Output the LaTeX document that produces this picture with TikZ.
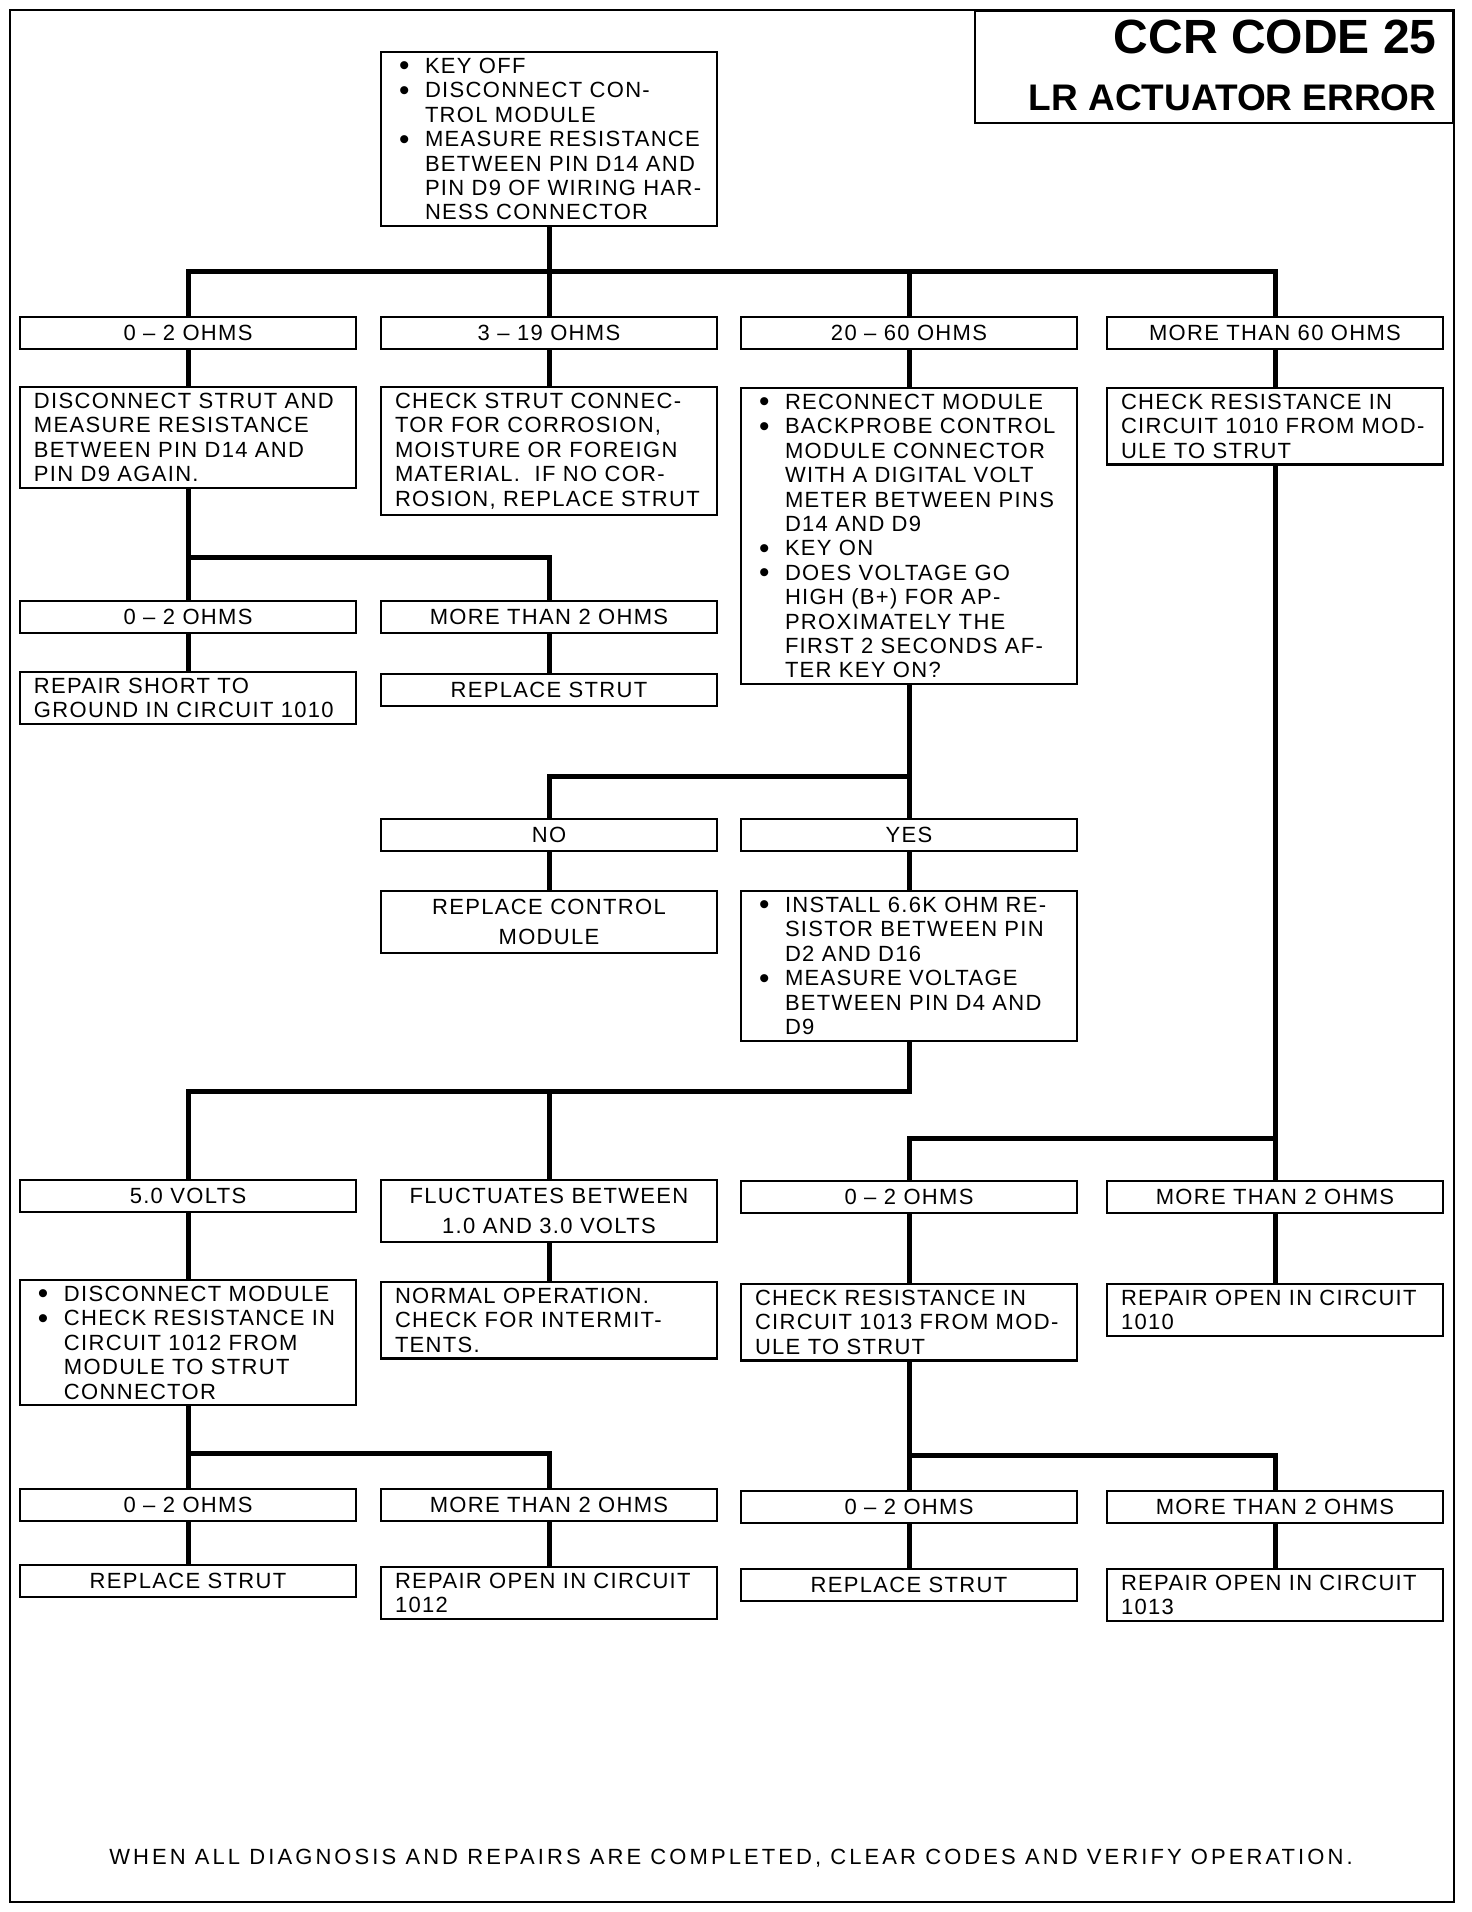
\documentclass[tikz,border=0pt]{standalone}
\usepackage{fontspec}
\setmainfont{Liberation Sans}[LetterSpace=6]
\newfontfamily\headfont{Liberation Sans}
\newcommand{\bul}{\makebox[30pt][l]{\hspace*{4pt}\smash{\raisebox{-2.5pt}{\scalebox{1.35}{\textbullet}}}}}
\newcommand{\ind}{\hspace*{30pt}}

\begin{document}
\begin{tikzpicture}[x=1pt, y=-1pt,
    every node/.style={font=\fontsize{22}{24.4}\selectfont},
    box/.style={draw, line width=2.2pt, minimum width=336pt, inner xsep=14pt, inner ysep=6pt, anchor=north},
    txtbox/.style={box, text width=308pt, align=left},
    lbl/.style={box, minimum height=32pt, inner ysep=0pt, align=center},
    link/.style={line width=5pt}]
    \useasboundingbox (0,0) rectangle (1472,1912);
    % frame and title
    \draw[line width=1.6pt] (10,10) rectangle (1454,1902);
    \node[draw, line width=2.2pt, minimum width=478pt, minimum height=112pt, inner sep=0pt, anchor=north east] (title) at (1454,10) {};
    \node[anchor=base east, font=\headfont\bfseries\fontsize{48}{50}\selectfont] (code) at (1440,53) {CCR CODE 25};
    \node[anchor=base east, font=\headfont\bfseries\fontsize{37}{40}\selectfont] (err) at (1440,110) {LR ACTUATOR ERROR};
    % first test
    \node[txtbox] (start) at (549,51) {\bul KEY OFF\\\bul DISCONNECT CON-\\\ind TROL MODULE\\\bul MEASURE RESISTANCE\\\ind BETWEEN PIN D14 AND\\\ind PIN D9 OF WIRING HAR-\\\ind NESS CONNECTOR};
    \node[lbl] (lo) at (188,316) {0 -- 2 OHMS};
    \node[lbl] (mid) at (549,316) {3 -- 19 OHMS};
    \node[lbl] (hi) at (909,316) {20 -- 60 OHMS};
    \node[lbl] (open) at (1275,316) {MORE THAN 60 OHMS};
    \node[txtbox] (dis) at (188,386) {DISCONNECT STRUT AND\\MEASURE RESISTANCE\\BETWEEN PIN D14 AND\\PIN D9 AGAIN.};
    \node[txtbox] (corr) at (549,386) {CHECK STRUT CONNEC-\\TOR FOR CORROSION,\\MOISTURE OR FOREIGN\\MATERIAL.\ \ IF NO COR-\\ROSION, REPLACE STRUT};
    \node[txtbox] (probe) at (909,387) {\bul RECONNECT MODULE\\\bul BACKPROBE CONTROL\\\ind MODULE CONNECTOR\\\ind WITH A DIGITAL VOLT\\\ind METER BETWEEN PINS\\\ind D14 AND D9\\\bul KEY ON\\\bul DOES VOLTAGE GO\\\ind HIGH (B+) FOR AP-\\\ind PROXIMATELY THE\\\ind FIRST 2 SECONDS AF-\\\ind TER KEY ON?};
    \node[txtbox] (chk1010) at (1275,387) {CHECK RESISTANCE IN\\CIRCUIT 1010 FROM MOD-\\ULE TO STRUT};
    % strut check
    \node[lbl] (lo2) at (188,600) {0 -- 2 OHMS};
    \node[lbl] (hi2) at (549,600) {MORE THAN 2 OHMS};
    \node[txtbox] (short) at (188,671) {REPAIR SHORT TO\\GROUND IN CIRCUIT 1010};
    \node[lbl] (strut1) at (549,673) {REPLACE STRUT};
    % voltage check
    \node[lbl] (no) at (549,818) {NO};
    \node[lbl] (yes) at (909,818) {YES};
    \node[lbl, inner ysep=8pt] (ctl) at (549,890) {REPLACE CONTROL\\[6pt]MODULE};
    \node[txtbox] (install) at (909,890) {\bul INSTALL 6.6K OHM RE-\\\ind SISTOR BETWEEN PIN\\\ind D2 AND D16\\\bul MEASURE VOLTAGE\\\ind BETWEEN PIN D4 AND\\\ind D9};
    % resistor test
    \node[lbl] (v5) at (188,1179) {5.0 VOLTS};
    \node[lbl, inner ysep=8pt] (fluct) at (549,1179) {FLUCTUATES BETWEEN\\[6pt]1.0 AND 3.0 VOLTS};
    \node[lbl] (lo3) at (909,1180) {0 -- 2 OHMS};
    \node[lbl] (hi3) at (1275,1180) {MORE THAN 2 OHMS};
    \node[txtbox] (chk1012) at (188,1279) {\bul DISCONNECT MODULE\\\bul CHECK RESISTANCE IN\\\ind CIRCUIT 1012 FROM\\\ind MODULE TO STRUT\\\ind CONNECTOR};
    \node[txtbox] (normal) at (549,1281) {NORMAL OPERATION.\\CHECK FOR INTERMIT-\\TENTS.};
    \node[txtbox] (chk1013) at (909,1283) {CHECK RESISTANCE IN\\CIRCUIT 1013 FROM MOD-\\ULE TO STRUT};
    \node[txtbox] (open1010) at (1275,1283) {REPAIR OPEN IN CIRCUIT\\1010};
    % circuit checks
    \node[lbl] (lo4) at (188,1488) {0 -- 2 OHMS};
    \node[lbl] (hi4) at (549,1488) {MORE THAN 2 OHMS};
    \node[lbl] (lo5) at (909,1490) {0 -- 2 OHMS};
    \node[lbl] (hi5) at (1275,1490) {MORE THAN 2 OHMS};
    \node[lbl] (strut2) at (188,1564) {REPLACE STRUT};
    \node[txtbox] (open1012) at (549,1566) {REPAIR OPEN IN CIRCUIT\\1012};
    \node[lbl] (strut3) at (909,1568) {REPLACE STRUT};
    \node[txtbox] (open1013) at (1275,1568) {REPAIR OPEN IN CIRCUIT\\1013};
    \node[font=\addfontfeature{LetterSpace=14}\fontsize{22}{24}\selectfont] (note) at (731,1858) {WHEN ALL DIAGNOSIS AND REPAIRS ARE COMPLETED, CLEAR CODES AND VERIFY OPERATION.};
    % connectors
    \coordinate (j1) at (549,271);
    \coordinate (j2) at (188,557);
    \coordinate (j3) at (909,776);
    \coordinate (j4) at (909,1091);
    \coordinate (j5) at (1275,1138);
    \coordinate (j6) at (188,1453);
    \coordinate (j7) at (909,1455);
    \draw[link] (start.south) -- (j1);
    \foreach \n in {lo, mid, hi, open}
      \draw[link] (\n.north) |- (j1);
    \foreach \a/\b in {lo/dis, mid/corr, hi/probe, open/chk1010, dis/lo2, lo2/short, hi2/strut1,
                       probe/yes, no/ctl, yes/install, v5/chk1012, fluct/normal, lo3/chk1013,
                       chk1010/hi3, hi3/open1010, chk1012/lo4, chk1013/lo5,
                       lo4/strut2, hi4/open1012, lo5/strut3, hi5/open1013}
      \draw[link] (\a.south) -- (\b.north);
    \draw[link] (hi2.north) |- (j2);
    \draw[link] (no.north) |- (j3);
    \draw[link] (install.south) -- (j4) -| (v5.north);
    \draw[link] (fluct.north) |- (j4);
    \draw[link] (lo3.north) |- (j5);
    \draw[link] (hi4.north) |- (j6);
    \draw[link] (hi5.north) |- (j7);
\end{tikzpicture}
\end{document}
